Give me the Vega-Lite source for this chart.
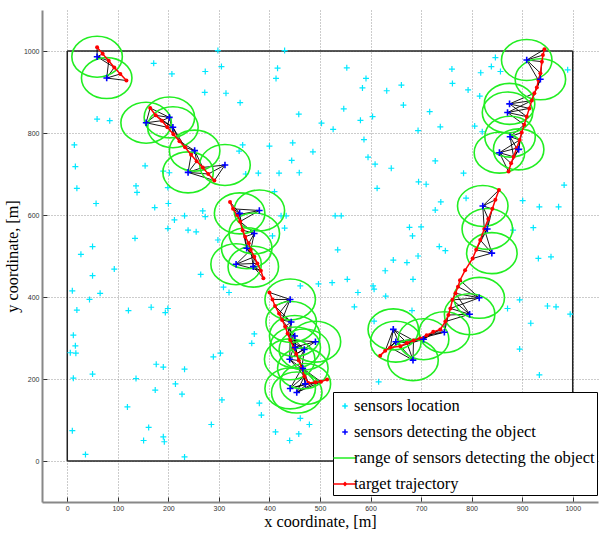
{
"$schema":"https://vega.github.io/schema/vega-lite/v6.json",
"width":556,"height":492,
"autosize":{"type":"none"},
"padding":{"left":42,"top":10,"right":3,"bottom":31},
"background":"white",
"config":{"view":{"stroke":null}},
"datasets":{
"sensors":[
{"x":298,"y":1001},{"x":171,"y":970},{"x":207,"y":944},{"x":273,"y":950},{"x":305,"y":962},{"x":272,"y":899},{"x":314,"y":897},{"x":59,"y":834},{"x":84,"y":830},{"x":14,"y":771},{"x":16,"y":718},{"x":19,"y":665},{"x":57,"y":628},{"x":154,"y":720},{"x":190,"y":707},{"x":202,"y":703},{"x":136,"y":671},{"x":138,"y":655},{"x":199,"y":667},{"x":200,"y":628},{"x":173,"y":618},{"x":212,"y":588},{"x":232,"y":598},{"x":268,"y":610},{"x":273,"y":596},{"x":239,"y":563},{"x":255,"y":559},{"x":199,"y":567},{"x":134,"y":543},{"x":50,"y":523},{"x":27,"y":504},{"x":298,"y":539},
{"x":430,"y":1001},{"x":416,"y":958},{"x":413,"y":933},{"x":553,"y":959},{"x":591,"y":933},{"x":584,"y":910},{"x":632,"y":903},{"x":661,"y":917},{"x":665,"y":868},{"x":342,"y":874},{"x":458,"y":846},{"x":547,"y":859},{"x":580,"y":831},{"x":604,"y":840},{"x":503,"y":824},{"x":526,"y":809},{"x":694,"y":806},{"x":347,"y":771},{"x":340,"y":756},{"x":400,"y":768},{"x":446,"y":776},{"x":486,"y":754},{"x":587,"y":784},{"x":595,"y":741},{"x":609,"y":724},{"x":641,"y":714},{"x":695,"y":681},{"x":613,"y":665},{"x":444,"y":733},{"x":459,"y":703},{"x":419,"y":702},{"x":378,"y":702},{"x":353,"y":700},{"x":410,"y":657},{"x":423,"y":598},{"x":433,"y":598},{"x":530,"y":598},{"x":542,"y":598},{"x":430,"y":568},{"x":406,"y":549},{"x":535,"y":515},{"x":677,"y":570},{"x":683,"y":549},{"x":645,"y":490},{"x":694,"y":500},
{"x":847,"y":984},{"x":839,"y":962},{"x":857,"y":950},{"x":818,"y":947},{"x":761,"y":956},{"x":762,"y":921},{"x":793,"y":905},{"x":816,"y":890},{"x":717,"y":852},{"x":738,"y":815},{"x":806,"y":817},{"x":821,"y":803},{"x":990,"y":954},{"x":728,"y":732},{"x":784,"y":702},{"x":710,"y":675},{"x":983,"y":673},{"x":739,"y":632},{"x":789,"y":641},{"x":728,"y":612},{"x":901,"y":635},{"x":934,"y":620},{"x":972,"y":620},{"x":922,"y":569},{"x":700,"y":571},{"x":736,"y":523},{"x":748,"y":513},{"x":957,"y":498},{"x":932,"y":494},{"x":882,"y":563},
{"x":50,"y":452},{"x":93,"y":468},{"x":264,"y":455},{"x":10,"y":415},{"x":44,"y":394},{"x":65,"y":409},{"x":19,"y":368},{"x":121,"y":367},{"x":166,"y":375},{"x":194,"y":362},{"x":199,"y":372},{"x":309,"y":424},{"x":320,"y":411},{"x":12,"y":307},{"x":16,"y":281},{"x":6,"y":264},{"x":17,"y":263},{"x":289,"y":254},{"x":303,"y":263},{"x":176,"y":236},{"x":190,"y":229},{"x":232,"y":224},{"x":50,"y":212},{"x":12,"y":202},{"x":136,"y":201},{"x":214,"y":188},{"x":174,"y":173},{"x":227,"y":163},{"x":306,"y":149},{"x":119,"y":132},{"x":10,"y":74},{"x":161,"y":82},{"x":151,"y":50},{"x":190,"y":59},{"x":192,"y":47},{"x":285,"y":89},{"x":36,"y":16},{"x":232,"y":10},
{"x":380,"y":141},{"x":384,"y":112},{"x":412,"y":71},{"x":440,"y":50},{"x":458,"y":66},{"x":461,"y":104},{"x":479,"y":89},
{"x":461,"y":427},{"x":497,"y":432},{"x":524,"y":435},{"x":554,"y":443},{"x":575,"y":411},{"x":568,"y":376},{"x":605,"y":427},{"x":607,"y":419},{"x":629,"y":464},{"x":672,"y":484},{"x":684,"y":443},{"x":630,"y":402},{"x":682,"y":367},{"x":370,"y":310},{"x":365,"y":287},{"x":607,"y":341},{"x":616,"y":193},
{"x":895,"y":393},{"x":871,"y":372},{"x":950,"y":378},{"x":967,"y":376},{"x":995,"y":358},{"x":917,"y":336},{"x":895,"y":273},{"x":934,"y":210}
],
"det":[
{"id":"A","x":59,"y":986},{"id":"B","x":78,"y":934},{"id":"C","x":156,"y":825},{"id":"D","x":202,"y":838},{"id":"E","x":209,"y":814},{"id":"F","x":252,"y":757},{"id":"G","x":239,"y":704},{"id":"H","x":312,"y":722},
{"id":"I","x":341,"y":604},{"id":"J","x":380,"y":611},{"id":"K","x":370,"y":555},{"id":"L","x":355,"y":519},{"id":"M","x":368,"y":474},{"id":"N","x":334,"y":480},
{"id":"O","x":441,"y":394},{"id":"P","x":443,"y":339},{"id":"Q","x":450,"y":305},{"id":"R","x":491,"y":291},{"id":"S","x":451,"y":277},{"id":"T","x":469,"y":272},{"id":"U","x":440,"y":248},{"id":"V","x":466,"y":226},{"id":"W","x":441,"y":177},{"id":"X","x":454,"y":167},{"id":"Y","x":471,"y":188},
{"id":"Z","x":645,"y":321},{"id":"AA","x":650,"y":291},{"id":"AB","x":684,"y":246},{"id":"AC","x":705,"y":297},{"id":"AD","x":746,"y":314},{"id":"AE","x":796,"y":358},{"id":"AF","x":815,"y":398},
{"id":"AG","x":822,"y":622},{"id":"AH","x":831,"y":566},{"id":"AI","x":840,"y":507},
{"id":"AJ","x":909,"y":978},{"id":"AK","x":936,"y":931},{"id":"AL","x":875,"y":871},{"id":"AM","x":871,"y":850},{"id":"AN","x":876,"y":791},{"id":"AO","x":893,"y":760},{"id":"AP","x":855,"y":752}
],
"traj":[
{"id":1,"seg":"a","x":59,"y":1009},{"id":2,"seg":"a","x":70,"y":993},{"id":3,"seg":"a","x":82,"y":976},{"id":4,"seg":"a","x":93,"y":960},{"id":5,"seg":"a","x":105,"y":944},{"id":6,"seg":"a","x":117,"y":928},
{"id":7,"seg":"b","x":164,"y":861},{"id":8,"seg":"b","x":175,"y":843},{"id":9,"seg":"b","x":187,"y":830},{"id":10,"seg":"b","x":198,"y":814},{"id":11,"seg":"b","x":210,"y":797},{"id":12,"seg":"b","x":222,"y":780},{"id":13,"seg":"b","x":233,"y":765},{"id":14,"seg":"b","x":245,"y":747},{"id":15,"seg":"b","x":256,"y":731},{"id":16,"seg":"b","x":268,"y":716},{"id":17,"seg":"b","x":279,"y":700},{"id":18,"seg":"b","x":291,"y":684},
{"id":19,"seg":"r","x":322,"y":632},{"id":20,"seg":"r","x":328,"y":615},{"id":21,"seg":"r","x":336,"y":600},{"id":22,"seg":"r","x":342,"y":584},{"id":23,"seg":"r","x":347,"y":563},{"id":24,"seg":"r","x":352,"y":547},{"id":25,"seg":"r","x":359,"y":531},{"id":26,"seg":"r","x":363,"y":515},{"id":27,"seg":"r","x":370,"y":498},{"id":28,"seg":"r","x":376,"y":482},{"id":29,"seg":"r","x":383,"y":464},{"id":30,"seg":"r","x":388,"y":446},
{"id":31,"seg":"s","x":400,"y":411},{"id":32,"seg":"s","x":406,"y":394},{"id":33,"seg":"s","x":411,"y":378},{"id":34,"seg":"s","x":419,"y":360},{"id":35,"seg":"s","x":425,"y":344},{"id":36,"seg":"s","x":431,"y":328},{"id":37,"seg":"s","x":436,"y":311},{"id":38,"seg":"s","x":441,"y":295},{"id":39,"seg":"s","x":448,"y":277},{"id":40,"seg":"s","x":453,"y":261},{"id":41,"seg":"s","x":458,"y":245},{"id":42,"seg":"s","x":464,"y":226},{"id":43,"seg":"s","x":469,"y":207},{"id":44,"seg":"s","x":477,"y":190},{"id":45,"seg":"s","x":491,"y":192},{"id":46,"seg":"s","x":502,"y":193},{"id":47,"seg":"s","x":514,"y":199},
{"id":48,"seg":"t","x":619,"y":257},{"id":49,"seg":"t","x":629,"y":269},{"id":50,"seg":"t","x":639,"y":277},{"id":51,"seg":"t","x":659,"y":280},{"id":52,"seg":"t","x":672,"y":288},{"id":53,"seg":"t","x":685,"y":294},{"id":54,"seg":"t","x":698,"y":299},{"id":55,"seg":"t","x":711,"y":307},{"id":56,"seg":"t","x":724,"y":315},{"id":57,"seg":"t","x":738,"y":321},{"id":58,"seg":"t","x":748,"y":340},{"id":59,"seg":"t","x":754,"y":356},{"id":60,"seg":"t","x":758,"y":372},{"id":61,"seg":"t","x":762,"y":393},{"id":62,"seg":"t","x":768,"y":409},{"id":63,"seg":"t","x":773,"y":425},{"id":64,"seg":"t","x":777,"y":441},{"id":65,"seg":"t","x":787,"y":465},{"id":66,"seg":"t","x":802,"y":494},{"id":67,"seg":"t","x":809,"y":515},{"id":68,"seg":"t","x":817,"y":539},{"id":69,"seg":"t","x":825,"y":566},{"id":70,"seg":"t","x":833,"y":590},{"id":71,"seg":"t","x":841,"y":615},{"id":72,"seg":"t","x":847,"y":637},{"id":73,"seg":"t","x":854,"y":661},
{"id":74,"seg":"u","x":873,"y":706},{"id":75,"seg":"u","x":878,"y":726},{"id":76,"seg":"u","x":883,"y":742},{"id":77,"seg":"u","x":889,"y":763},{"id":78,"seg":"u","x":895,"y":783},{"id":79,"seg":"u","x":899,"y":801},{"id":80,"seg":"u","x":904,"y":820},{"id":81,"seg":"u","x":909,"y":840},{"id":82,"seg":"u","x":914,"y":860},{"id":83,"seg":"u","x":919,"y":879},{"id":84,"seg":"u","x":924,"y":897},{"id":85,"seg":"u","x":929,"y":911},{"id":86,"seg":"u","x":932,"y":929},{"id":87,"seg":"u","x":936,"y":946},{"id":88,"seg":"u","x":939,"y":974},{"id":89,"seg":"u","x":941,"y":990},{"id":90,"seg":"u","x":944,"y":1004}
],
"links":[
{"s":"A","t":[1,2,3,4]},{"s":"B","t":[3,4,5,6]},{"s":"C","t":[7,8,9,10]},{"s":"D","t":[7,8,9,10,11]},{"s":"E","t":[8,9,10,11,12,13]},{"s":"F","t":[12,13,14,15,16]},{"s":"G","t":[14,15,16,17,18]},{"s":"H","t":[16,17,18]},
{"s":"I","t":[19,20,21,22,23]},{"s":"J","t":[20,21,22]},{"s":"K","t":[22,23,24,25,26]},{"s":"L","t":[23,24,25,26,27,28]},{"s":"M","t":[26,27,28,29,30]},{"s":"N","t":[26,27,28,29]},
{"s":"O","t":[31,32,33,34,35]},{"s":"P","t":[33,34,35,36,37,38]},{"s":"Q","t":[35,36,37,38,39,40]},{"s":"R","t":[38,39,40]},{"s":"S","t":[37,38,39,40,41,42]},{"s":"T","t":[37,38,39,40,41,42]},{"s":"U","t":[38,39,40,41,42,43]},{"s":"V","t":[40,41,42,43,44,45,46]},{"s":"W","t":[42,43,44,45]},{"s":"X","t":[43,44,45,46]},{"s":"Y","t":[42,43,44,45,46,47]},
{"s":"Z","t":[49,50,51,52,53]},{"s":"AA","t":[48,49,50,51,52,53,54]},{"s":"AB","t":[50,51,52,53]},{"s":"AC","t":[51,52,53,54,55,56,57]},{"s":"AD","t":[54,55,56,57,58,59]},{"s":"AE","t":[58,59,60,61,62]},{"s":"AF","t":[60,61,62,63,64]},
{"s":"AI","t":[66,67,68,69]},{"s":"AH","t":[67,68,69,70,71]},{"s":"AG","t":[69,70,71,72,73]},
{"s":"AJ","t":[86,87,88,89,90]},{"s":"AK","t":[83,84,85,86,87,88]},{"s":"AL","t":[81,82,83,84]},{"s":"AM","t":[80,81,82,83]},{"s":"AN","t":[76,77,78,79,80]},{"s":"AO","t":[75,76,77,78,79]},{"s":"AP","t":[74,75,76,77,78]}
]
},
"encoding":{
"x":{"field":"x","type":"quantitative","scale":{"domain":[-50,1050],"nice":false,"zero":false},
 "axis":{"values":[0,100,200,300,400,500,600,700,800,900,1000],"format":"d","grid":true,"gridDash":[1,2],"gridColor":"#999","gridWidth":1,"tickSize":-5,"tickColor":"#333","domainColor":"#888","domainWidth":2,"labelFont":"Liberation Sans Narrow, Liberation Sans, Arial","labelFontSize":7,"labelColor":"#333","labelPadding":7,"title":"x coordinate, [m]","titleFont":"Liberation Serif, Times New Roman, DejaVu Serif, serif","titleFontSize":16.3,"titleFontWeight":"normal","titleColor":"black","titlePadding":2}},
"y":{"field":"y","type":"quantitative","scale":{"domain":[-100,1100],"nice":false,"zero":false},
 "axis":{"values":[0,200,400,600,800,1000],"format":"d","grid":true,"gridDash":[1,2],"gridColor":"#999","gridWidth":1,"tickSize":-5,"tickColor":"#333","domainColor":"#888","domainWidth":2,"labelFont":"Liberation Sans Narrow, Liberation Sans, Arial","labelFontSize":7,"labelColor":"#333","labelPadding":8,"title":"y coordinate, [m]","titleFont":"Liberation Serif, Times New Roman, DejaVu Serif, serif","titleFontSize":16.3,"titleFontWeight":"normal","titleColor":"black","titlePadding":3}}
},
"layer":[
{"data":{"values":[{"x":0,"y":0,"x2":1000,"y2":0},{"x":1000,"y":0,"x2":1000,"y2":1000},{"x":1000,"y":1000,"x2":0,"y2":1000},{"x":0,"y":1000,"x2":0,"y2":0}]},
 "mark":{"type":"rule","color":"#222","strokeWidth":1.5},
 "encoding":{"x2":{"field":"x2"},"y2":{"field":"y2"}}},
{"data":{"name":"sensors"},
 "mark":{"type":"point","filled":false,"strokeWidth":1.2,"size":576,"opacity":1},
 "encoding":{
  "color":{"datum":"sensors location","type":"nominal","scale":{"domain":["sensors location","sensors detecting the object","range of sensors detecting the object","target trajectory"],"range":["#00e8ff","#0000ff","#22ee22","#ff0000"]},
   "legend":{"orient":"none","legendX":291,"legendY":382,"title":null,"fillColor":"white","strokeColor":"black","padding":2,"symbolSize":484,"symbolStrokeWidth":1.5,"symbolOffset":-2,"labelFont":"Liberation Serif, Times New Roman, DejaVu Serif, serif","labelFontSize":16.5,"labelColor":"black","labelOffset":-3,"labelLimit":400,"rowPadding":5,"cornerRadius":0}},
  "shape":{"datum":"sensors location","type":"nominal","scale":{"domain":["sensors location","sensors detecting the object","range of sensors detecting the object","target trajectory"],"range":["M-0.25,0H0.25M0,-0.25V0.25","M-0.25,0H0.25M0,-0.25V0.25","M-1.05,0H1.05","M-1.05,0H1.05M-0.12,0L0,-0.12L0.12,0L0,0.12Z"]},
   "legend":{"orient":"none","legendX":291,"legendY":382,"title":null,"fillColor":"white","strokeColor":"black","padding":2,"symbolSize":484,"symbolStrokeWidth":1.5,"symbolOffset":-2,"labelFont":"Liberation Serif, Times New Roman, DejaVu Serif, serif","labelFontSize":16.5,"labelColor":"black","labelOffset":-3,"labelLimit":400,"rowPadding":5,"cornerRadius":0}}
 }},
{"data":{"name":"links"},
 "transform":[{"flatten":["t"]},
  {"lookup":"s","from":{"data":{"name":"det"},"key":"id","fields":["x","y"]},"as":["x","y"]},
  {"lookup":"t","from":{"data":{"name":"traj"},"key":"id","fields":["x","y"]},"as":["x2","y2"]}],
 "mark":{"type":"rule","color":"black","strokeWidth":0.9},
 "encoding":{"x2":{"field":"x2"},"y2":{"field":"y2"}}},
{"data":{"name":"det"},
 "mark":{"type":"point","shape":"M1,0C1,0.448 0.552,0.811 0,0.811C-0.552,0.811 -1,0.448 -1,0C-1,-0.448 -0.552,-0.811 0,-0.811C0.552,-0.811 1,-0.448 1,0Z","filled":false,"color":"#22ee22","strokeWidth":1.6,"size":2550,"opacity":1}},
{"data":{"name":"traj"},
 "mark":{"type":"line","color":"#ff0000","strokeWidth":1.5},
 "encoding":{"detail":{"field":"seg"},"order":{"field":"id","type":"quantitative"}}},
{"data":{"name":"traj"},
 "mark":{"type":"point","shape":"circle","filled":true,"color":"#ff0000","size":16,"opacity":1}},
{"data":{"name":"det"},
 "mark":{"type":"point","shape":"M-0.25,0H0.25M0,-0.25V0.25","filled":false,"color":"#0000ff","strokeWidth":1.6,"size":700,"opacity":1}}
]
}
